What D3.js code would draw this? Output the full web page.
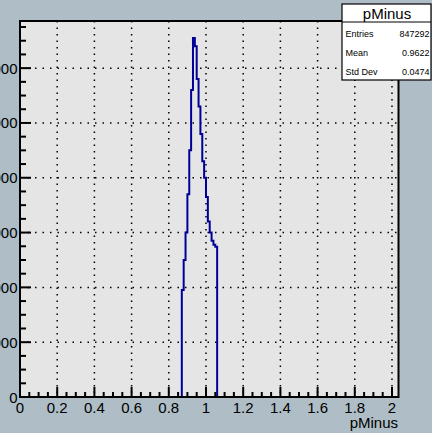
<!DOCTYPE html>
<html><head><meta charset="utf-8">
<script src="https://cdn.jsdelivr.net/npm/d3@7"></script>
<style>body{margin:0;background:#aebdc6;}svg{display:block;}</style>
</head><body>
<svg id="c" width="432" height="433"></svg>
<script>
// Histogram bin low edges (width 0.01) and counts
const binLow = [0.87,0.88,0.89,0.90,0.91,0.92,0.93,0.94,0.95,0.96,0.97,0.98,0.99,1.00,1.01,1.02,1.03,1.04,1.05];
const counts = [19500,25000,30000,37000,45000,56000,65500,64000,58000,53000,48000,43000,40000,36500,32000,30000,28500,27800,27400];
const binWidth = 0.01;
const xTicks = [0,0.2,0.4,0.6,0.8,1,1.2,1.4,1.6,1.8,2];
const xTickLabels = ["0","0.2","0.4","0.6","0.8","1","1.2","1.4","1.6","1.8","2"];
const yTicks = [0,10000,20000,30000,40000,50000,60000];
const yTickLabels = ["0","10000","20000","30000","40000","50000","60000"];
const statNames = ["Entries","Mean","Std Dev"];
const statValues = ["847292","0.9622","0.0474"];
const histTitle = "pMinus";
const xTitle = "pMinus";

const svg = d3.select("#c");
const L=20, R=398.5, T=21, B=397;
const x = d3.scaleLinear().domain([0,2.035]).range([L,R]);
const y = d3.scaleLinear().domain([0,68600]).range([B,T]);
const font = "'Liberation Sans', Arial, Helvetica, sans-serif";

svg.append("rect").attr("x",L).attr("y",T).attr("width",R-L).attr("height",B-T).attr("fill","#e5e5e5");

// grid
const g = svg.append("g");
xTicks.slice(1).forEach(t=>{
  g.append("line").attr("x1",x(t)).attr("x2",x(t)).attr("y1",T).attr("y2",B)
   .attr("stroke","#000").attr("stroke-width",1.5).attr("stroke-dasharray","1.5,5");
});
yTicks.slice(1).forEach(t=>{
  g.append("line").attr("x1",L).attr("x2",R).attr("y1",y(t)).attr("y2",y(t))
   .attr("stroke","#000").attr("stroke-width",1.5).attr("stroke-dasharray","1.5,6");
});

// histogram
let pts=[[x(binLow[0]),y(0)]];
binLow.forEach((b,i)=>{pts.push([x(b),y(counts[i])]);pts.push([x(b+binWidth),y(counts[i])]);});
pts.push([x(binLow[binLow.length-1]+binWidth),y(0)]);
svg.append("path").attr("d",d3.line()(pts)).attr("fill","none").attr("stroke","#000099").attr("stroke-width",2);

// axes ticks
const ax = svg.append("g").attr("stroke","#000").attr("stroke-width",2);
d3.range(0,2.0001,0.05).forEach(v=>{
  const major = Math.abs(v*5-Math.round(v*5))<1e-6;
  ax.append("line").attr("x1",x(v)).attr("x2",x(v)).attr("y1",B).attr("y2",B-(major?10:5));
});
d3.range(0,68600,2500).forEach(v=>{
  const major = v%10000===0;
  ax.append("line").attr("x1",L).attr("x2",L+(major?11:6)).attr("y1",y(v)).attr("y2",y(v));
});
svg.append("rect").attr("x",L).attr("y",T).attr("width",R-L).attr("height",B-T).attr("fill","none").attr("stroke","#000").attr("stroke-width",2);

// labels
xTicks.forEach((t,i)=>{
  svg.append("text").attr("x",x(t)).attr("y",413).attr("text-anchor","middle")
   .attr("font-family",font).attr("font-size",15).text(xTickLabels[i]);
});
yTicks.forEach((t,i)=>{
  svg.append("text").attr("x",17.5).attr("y",y(t)+5.5).attr("text-anchor","end")
   .attr("font-family",font).attr("font-size",15).text(yTickLabels[i]);
});
svg.append("text").attr("x",398).attr("y",428).attr("text-anchor","end")
  .attr("font-family",font).attr("font-size",15).text(xTitle);

// stats box
const sb = svg.append("g");
sb.append("rect").attr("x",342).attr("y",4).attr("width",89).attr("height",76).attr("fill","#fff").attr("stroke","#000").attr("stroke-width",1.2);
sb.append("line").attr("x1",342).attr("x2",431).attr("y1",22).attr("y2",22).attr("stroke","#000").attr("stroke-width",1.2);
sb.append("text").attr("x",387).attr("y",18.5).attr("text-anchor","middle").attr("font-family",font).attr("font-size",15).text(histTitle);
statNames.forEach((n,i)=>{
  const yy = 37+i*19;
  sb.append("text").attr("x",345.5).attr("y",yy).attr("font-family",font).attr("font-size",9).text(n);
  sb.append("text").attr("x",429.5).attr("y",yy).attr("text-anchor","end").attr("font-family",font).attr("font-size",9).text(statValues[i]);
});
</script>
</body></html>
